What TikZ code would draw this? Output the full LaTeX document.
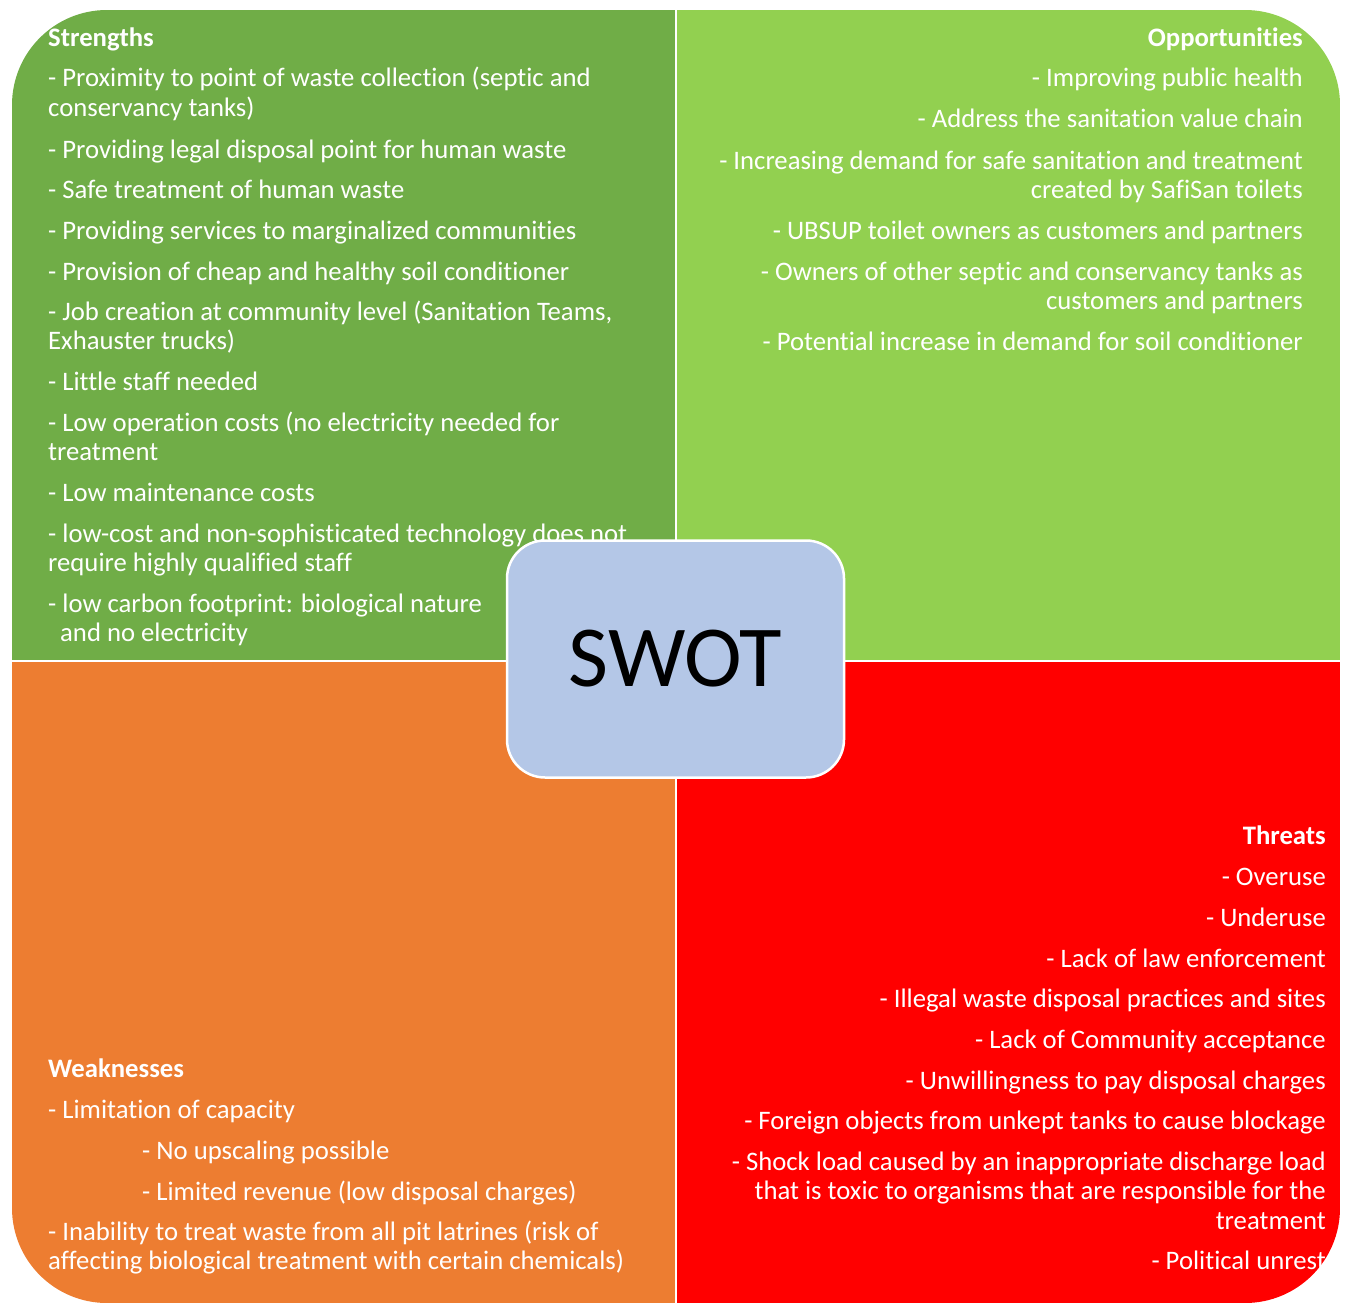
\documentclass[tikz,border=0pt]{standalone}
\usepackage{fontspec}
\setmainfont{Carlito}[Ligatures=CommonOff]
\usepackage{tikz}
\definecolor{swotS}{HTML}{70AD47}
\definecolor{swotO}{HTML}{92D050}
\definecolor{swotW}{HTML}{ED7D31}
\definecolor{swotT}{HTML}{FF0000}
\definecolor{swotC}{HTML}{B4C7E7}
\tikzset{
  item/.style={text=white,inner sep=0pt,font=\fontsize{26.7}{29.5}\selectfont},
  head/.style={item,font=\fontsize{26.7}{29.5}\selectfont\bfseries},
  itemL/.style={item,anchor=base west,align=left},
  itemR/.style={item,anchor=base east,align=right},
}

\begin{document}
\begin{tikzpicture}[x=1pt,y=-1pt]
  \useasboundingbox (0,0) rectangle (1346,1303);
  \begin{scope}
    \clip[rounded corners=95pt] (12,10) rectangle (1340,1303);
    \fill[swotS] (12,10) rectangle (675,660);
    \fill[swotO] (677,10) rectangle (1340,660);
    \fill[swotW] (12,662) rectangle (675,1303);
    \fill[swotT] (677,662) rectangle (1340,1303);
  \end{scope}
  % strengths (base = last line)
  \node[head,anchor=base west] (sh) at (48,47) {Strengths};
  \node[itemL] (s1) at (48,116.5) {- Proximity to point of waste collection (septic and\\conservancy tanks)};
  \node[itemL] (s2) at (48,158) {- Providing legal disposal point for human waste};
  \node[itemL] (s3) at (48,198) {- Safe treatment of human waste};
  \node[itemL] (s4) at (48,239) {- Providing services to marginalized communities};
  \node[itemL] (s5) at (48,280) {- Provision of cheap and healthy soil conditioner};
  \node[itemL] (s6) at (48,349.5) {- Job creation at community level (Sanitation Teams,\\Exhauster trucks)};
  \node[itemL] (s7) at (48,390) {- Little staff needed};
  \node[itemL] (s8) at (48,460.5) {- Low operation costs (no electricity needed for\\treatment};
  \node[itemL] (s9) at (48,501) {- Low maintenance costs};
  \node[itemL] (s10) at (48,571.5) {- low-cost and non-sophisticated technology does not\\require highly qualified staff};
  \node[itemL] (s11) at (48,641.5) {- low carbon footprint: biological nature\\\hspace*{12pt}and no electricity};
  % opportunities
  \node[head,anchor=base east] (oh) at (1303,47) {Opportunities};
  \node[itemR] (o1) at (1303,87) {- Improving public health};
  \node[itemR] (o2) at (1303,128) {- Address the sanitation value chain};
  \node[itemR] (o3) at (1303,198.5) {- Increasing demand for safe sanitation and treatment\\created by SafiSan toilets};
  \node[itemR] (o4) at (1303,239) {- UBSUP toilet owners as customers and partners};
  \node[itemR] (o5) at (1303,309.5) {- Owners of other septic and conservancy tanks as\\customers and partners};
  \node[itemR] (o6) at (1303,350) {- Potential increase in demand for soil conditioner};
  % weaknesses
  \node[head,anchor=base west] (wh) at (48,1077) {Weaknesses};
  \node[itemL] (w1) at (48,1118) {- Limitation of capacity};
  \node[itemL] (w2) at (142,1159) {- No upscaling possible};
  \node[itemL] (w3) at (142,1200) {- Limited revenue (low disposal charges)};
  \node[itemL] (w4) at (48,1269.5) {- Inability to treat waste from all pit latrines (risk of\\affecting biological treatment with certain chemicals)};
  % threats
  \node[head,anchor=base east] (th) at (1326,844) {Threats};
  \node[itemR] (t1) at (1326,885) {- Overuse};
  \node[itemR] (t2) at (1326,926) {- Underuse};
  \node[itemR] (t3) at (1326,967) {- Lack of law enforcement};
  \node[itemR] (t4) at (1326,1007) {- Illegal waste disposal practices and sites};
  \node[itemR] (t5) at (1326,1048) {- Lack of Community acceptance};
  \node[itemR] (t6) at (1326,1089) {- Unwillingness to pay disposal charges};
  \node[itemR] (t7) at (1326,1129) {- Foreign objects from unkept tanks to cause blockage};
  \node[itemR] (t8) at (1326,1229) {- Shock load caused by an inappropriate discharge load\\that is toxic to organisms that are responsible for the\\treatment};
  \node[itemR] (t9) at (1326,1269) {- Political unrest};
  % centre
  \node[fill=swotC,draw=white,line width=2.5pt,rounded corners=38pt,
        minimum width=337pt,minimum height=237pt,
        font=\fontsize{87}{95}\selectfont] (swot) at (675.5,659) {SWOT};
\end{tikzpicture}
\end{document}
